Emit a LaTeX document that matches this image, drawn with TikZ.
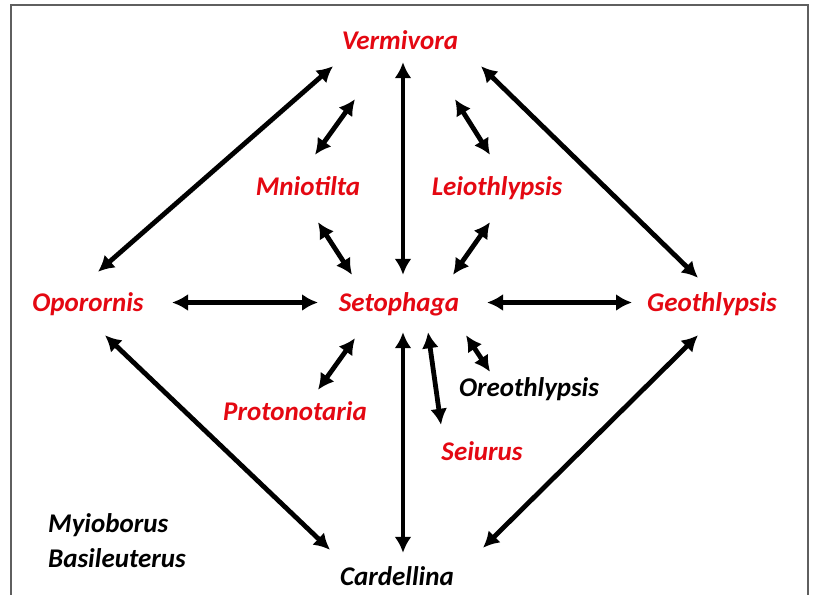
\documentclass[tikz,border=0pt]{standalone}
\usepackage{fontspec}
\setmainfont{Carlito}
\usetikzlibrary{arrows.meta,calc}
\definecolor{genusred}{RGB}{228,8,18}
\definecolor{framegray}{RGB}{95,95,95}

\begin{document}
\begin{tikzpicture}[x=1pt,y=-1pt,
  genus/.style={inner sep=0pt,anchor=base,text height=18pt,text depth=5pt,
    font=\fontsize{27}{33}\selectfont\bfseries\itshape},
  redgenus/.style={genus,text=genusred},
  link/.style={line width=4.8pt,{Latex[length=16pt,width=17pt]}-{Latex[length=16pt,width=17pt]}}]
\useasboundingbox (0,0) rectangle (821,594);
% frame, bottom edge cut off
\draw[framegray,line width=2.4pt] (11,600) |- (808,5) -- (808,600);
% genera in red
\node[redgenus] (verm) at (400,50) {Vermivora};
\node[redgenus] (mnio) at (308,195) {Mniotilta};
\node[redgenus] (leio) at (497,195) {Leiothlypsis};
\node[redgenus] (opor) at (88,311) {Oporornis};
\node[redgenus] (seto) at (399,311) {Setophaga};
\node[redgenus] (geot) at (712,311) {Geothlypsis};
\node[redgenus] (prot) at (295,420) {Protonotaria};
\node[redgenus] (seiu) at (482,460) {Seiurus};
% genera in black
\node[genus] (oreo) at (529,396) {Oreothlypsis};
\node[genus] (card) at (397,585) {Cardellina};
\node[genus,anchor=base west] (myio) at (48,532) {Myioborus};
\node[genus,anchor=base west] (basi) at (48,567) {Basileuterus};
% links
\draw[link] ($(opor.north)+(10,-21)$) -- ($(verm.south)+(-67,11)$);
\draw[link] ($(verm.south)+(81,11)$) -- ($(geot.north)+(-14,-15)$);
\draw[link] ($(verm.south)+(-45,44)$) -- ($(mnio.north)+(7,-22)$);
\draw[link] ($(verm.south)+(55,44)$) -- ($(leio.north)+(-7,-22)$);
\draw[link] ($(verm.south)+(3,7)$) -- ($(seto.north)+(4,-18)$);
\draw[link] ($(mnio.south)+(10,22)$) -- ($(seto.north)+(-47,-18)$);
\draw[link] ($(leio.south)+(-7,22)$) -- ($(seto.north)+(54,-18)$);
\draw[link] ($(opor.center)+(84,-2)$) -- ($(seto.center)+(-81,-2)$);
\draw[link] ($(seto.center)+(88,-2)$) -- ($(geot.center)+(-80,-2)$);
\draw[link] ($(seto.south)+(-44,22)$) -- ($(prot.north)+(23,-12)$);
\draw[link] ($(seto.south)+(4,16)$) -- ($(card.north)+(6,-14)$);
\draw[link] ($(seto.south)+(29,16)$) -- ($(seiu.north)+(-41,-17)$);
\draw[link] ($(seto.south)+(67,19)$) -- ($(oreo.north)+(-39,-6)$);
\draw[link] ($(opor.south)+(17,19)$) -- ($(card.north)+(-67,-17)$);
\draw[link] ($(geot.south)+(-14,19)$) -- ($(card.north)+(86,-19)$);
\end{tikzpicture}
\end{document}
